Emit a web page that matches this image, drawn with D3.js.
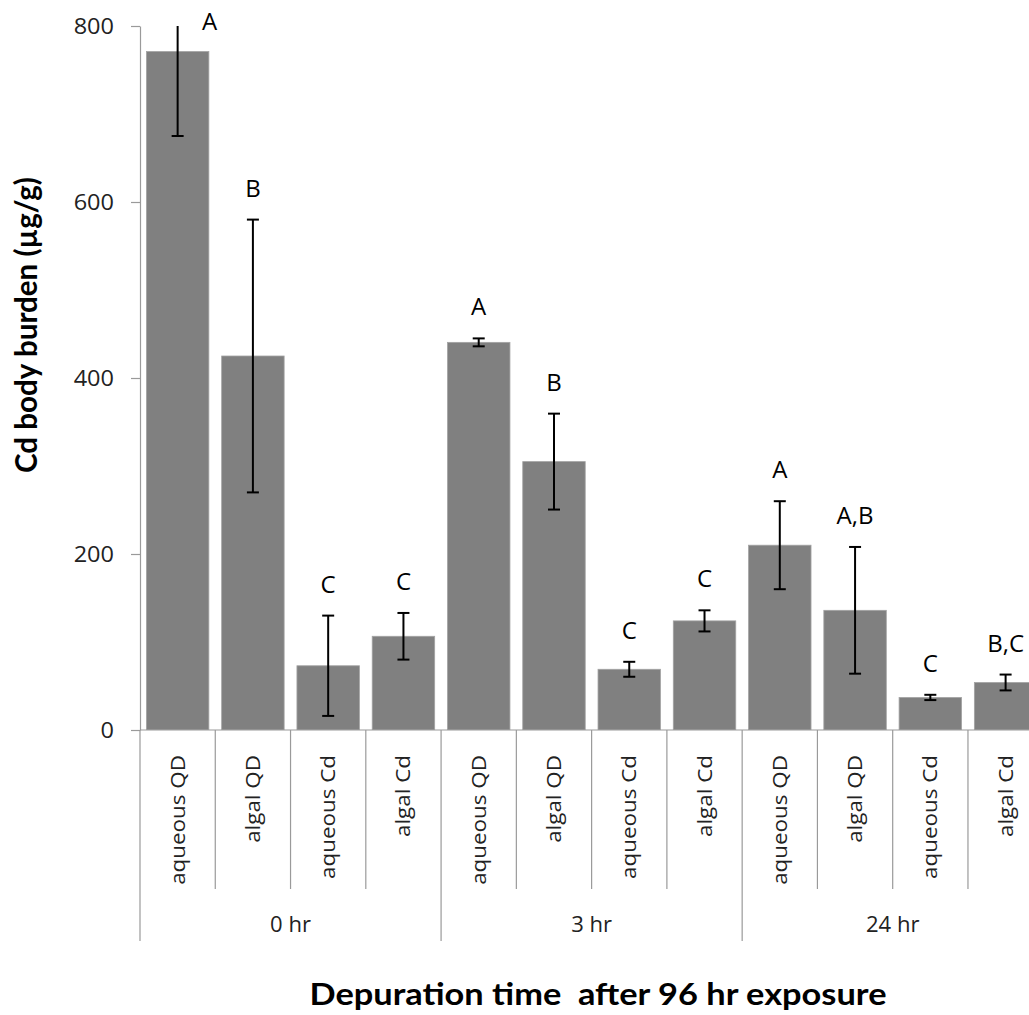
<!DOCTYPE html>
<html>
<head>
<meta charset="utf-8">
<script src="https://cdn.jsdelivr.net/npm/d3@7"></script>
<style>
  html, body { margin: 0; padding: 0; background: #fff; }
  svg { display: block; }
</style>
</head>
<body>
<svg id="chart" width="1029" height="1015"></svg>
<script>
// ---------- data ----------
const groups = ["0 hr", "3 hr", "24 hr"];
const subCategories = ["aqueous QD", "algal QD", "aqueous Cd", "algal Cd"];
const means  = [771, 425, 73, 106.5, 440.5, 305, 69, 124, 210, 136, 37, 54];
const errors = [96, 155, 57, 26.5, 4.5, 54.5, 8.5, 12, 50, 72, 3, 9];
const letters = ["A", "B", "C", "C", "A", "B", "C", "C", "A", "A,B", "C", "B,C"];
const yTicks = [0, 200, 400, 600, 800];
const yTitle = "Cd body burden (\u00b5g/g)";
const xTitle = "Depuration time  after 96 hr exposure";

// ---------- layout ----------
const svg = d3.select("#chart");
const plotLeft = 140, plotTop = 26, plotBottom = 730;
const step = 75.27;
const nCat = groups.length * subCategories.length;
const plotRight = plotLeft + nCat * step;

const cats = groups.flatMap((g, gi) => subCategories.map((s, si) => ({
  i: gi * subCategories.length + si, group: g, sub: s
})));

const x = d3.scaleBand().domain(d3.range(nCat)).range([plotLeft, plotRight])
  .paddingInner(0.17).paddingOuter(0.085);
const y = d3.scaleLinear().domain([0, 800]).range([plotBottom, plotTop]);

const FONT = "'Open Sans', 'Noto Sans', 'Liberation Sans', sans-serif";
const BOLD = "Lato, 'Open Sans', 'Liberation Sans', sans-serif";

function stretch(sel, k) {
  sel.each(function () {
    const L = this.getComputedTextLength();
    d3.select(this).attr("textLength", L * k).attr("lengthAdjust", "spacingAndGlyphs");
  });
}

// clip for plot area
svg.append("defs").append("clipPath").attr("id", "plotClip")
  .append("rect").attr("x", plotLeft).attr("y", plotTop)
  .attr("width", plotRight - plotLeft).attr("height", plotBottom - plotTop);

// ---------- bars ----------
const plot = svg.append("g").attr("clip-path", "url(#plotClip)");
plot.selectAll("rect.bar").data(cats).join("rect")
  .attr("class", "bar")
  .attr("x", d => x(d.i))
  .attr("width", x.bandwidth())
  .attr("y", d => y(means[d.i]))
  .attr("height", d => y(0) - y(means[d.i]))
  .attr("fill", "#808080")
  .attr("stroke", "#a3a3a3")
  .attr("stroke-width", 0.8);

// ---------- error bars ----------
const eb = plot.selectAll("g.err").data(cats).join("g").attr("class", "err")
  .attr("stroke", "#000").attr("stroke-width", 2).attr("fill", "none");
const capW = 12;
eb.each(function (d) {
  const g = d3.select(this);
  const cx = x(d.i) + x.bandwidth() / 2;
  const hi = means[d.i] + errors[d.i], lo = means[d.i] - errors[d.i];
  g.append("line").attr("x1", cx).attr("x2", cx).attr("y1", y(lo)).attr("y2", y(hi));
  g.append("line").attr("x1", cx - capW / 2).attr("x2", cx + capW / 2).attr("y1", y(lo)).attr("y2", y(lo));
  if (hi <= 800) {
    g.append("line").attr("x1", cx - capW / 2).attr("x2", cx + capW / 2).attr("y1", y(hi)).attr("y2", y(hi));
  }
});

// ---------- significance letters ----------
svg.append("g").selectAll("text").data(cats).join("text")
  .attr("x", d => {
    const cx = x(d.i) + x.bandwidth() / 2;
    return (means[d.i] + errors[d.i] > 800) ? cx + 32 : cx;
  })
  .attr("y", d => {
    const hi = means[d.i] + errors[d.i];
    return hi > 800 ? y(800) + 4 : y(hi) - 23;
  })
  .attr("text-anchor", "middle")
  .attr("font-family", FONT)
  .attr("font-size", 24)
  .attr("fill", "#000")
  .text(d => letters[d.i]);

// ---------- y axis ----------
const yAxis = svg.append("g").attr("transform", `translate(${plotLeft},0)`)
  .call(d3.axisLeft(y).tickValues(yTicks).tickSize(9).tickSizeOuter(0).tickPadding(17).tickFormat(d3.format("d")));
yAxis.select(".domain").attr("stroke", "#9a9a9a").attr("stroke-width", 1.2);
yAxis.selectAll(".tick line").attr("stroke", "#9a9a9a").attr("stroke-width", 1.2);
yAxis.selectAll(".tick text")
  .attr("font-family", FONT).attr("font-size", 21).attr("fill", "#222").attr("dy", "0.36em");
stretch(yAxis.selectAll(".tick text"), 1.12);

// ---------- x axis base line and category dividers ----------
const xa = svg.append("g").attr("stroke", "#9a9a9a").attr("stroke-width", 1.2);
xa.append("line").attr("x1", plotLeft).attr("x2", plotRight).attr("y1", plotBottom).attr("y2", plotBottom);
const bounds = d3.range(nCat + 1).map(i => ({
  i, xPos: i === nCat ? plotRight : x(i) - x.step() * x.paddingInner() / 2
}));
xa.selectAll("line.div").data(bounds).join("line").attr("class", "div")
  .attr("x1", d => d.xPos).attr("x2", d => d.xPos)
  .attr("y1", plotBottom)
  .attr("y2", d => d.i % subCategories.length === 0 ? 941 : 889);

// sub-category labels (rotated)
const subLab = svg.append("g").selectAll("text").data(cats).join("text")
  .attr("transform", d => `translate(${x(d.i) + x.bandwidth() / 2 + 7},755) rotate(-90)`)
  .attr("text-anchor", "end")
  .attr("font-family", FONT)
  .attr("font-size", 20)
  .attr("fill", "#222")
  .text(d => d.sub);
stretch(subLab, 1.12);

// group labels
const grpLab = svg.append("g").selectAll("text").data(groups).join("text")
  .attr("x", (g, gi) => {
    const a = x(gi * subCategories.length) - x.step() * x.paddingInner() / 2;
    return a + x.step() * subCategories.length / 2;
  })
  .attr("y", 932)
  .attr("text-anchor", "middle")
  .attr("font-family", FONT)
  .attr("font-size", 21)
  .attr("fill", "#222")
  .text(d => d);
stretch(grpLab, 1.05);

// ---------- titles ----------
svg.append("text")
  .attr("transform", "translate(37,325) rotate(-90)")
  .attr("text-anchor", "middle")
  .attr("font-family", BOLD).attr("font-weight", "bold").attr("font-size", 30)
  .attr("fill", "#000")
  .attr("textLength", 296).attr("lengthAdjust", "spacingAndGlyphs")
  .text(yTitle);

svg.append("text")
  .attr("x", 598).attr("y", 1005)
  .attr("text-anchor", "middle")
  .attr("font-family", BOLD).attr("font-weight", "bold").attr("font-size", 30)
  .attr("fill", "#000")
  .attr("textLength", 577).attr("lengthAdjust", "spacingAndGlyphs")
  .style("white-space", "pre")
  .text(xTitle);
</script>
</body>
</html>
